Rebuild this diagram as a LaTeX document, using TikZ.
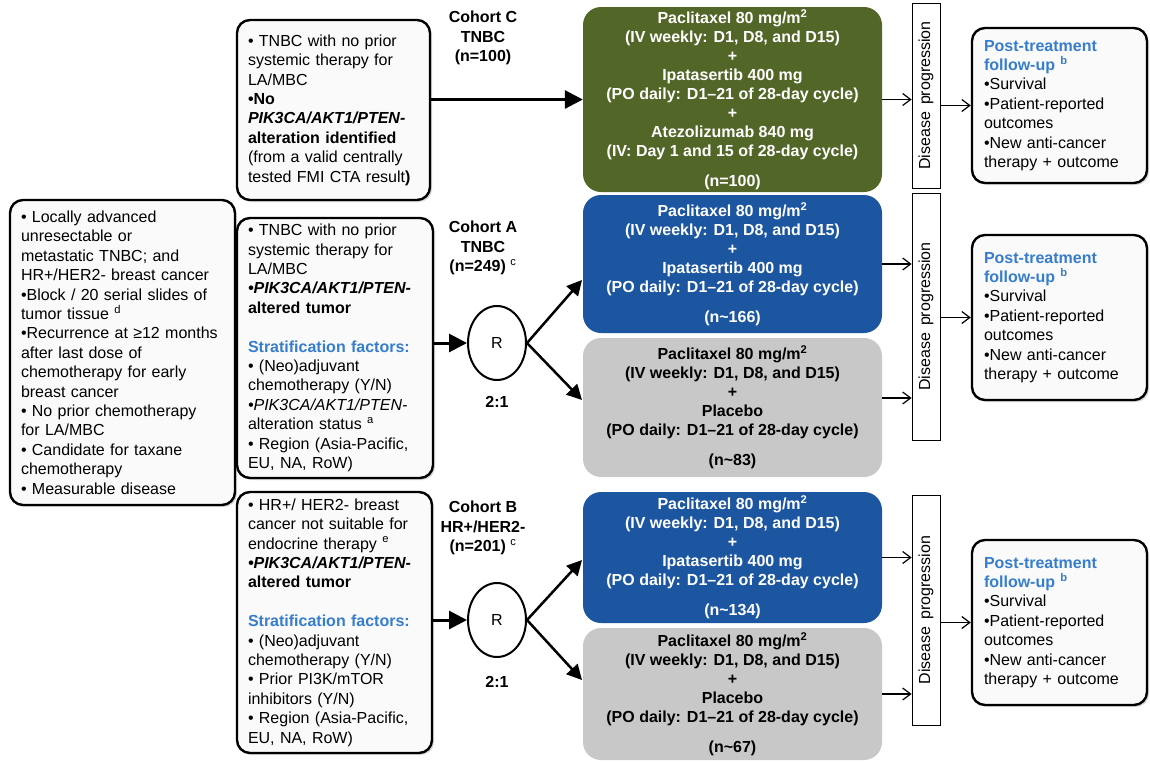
\documentclass[tikz,border=0pt]{standalone}
\usepackage{fontspec}
\setmainfont{Liberation Sans}
\usepackage{graphicx}
\usepackage{tikz}
\usetikzlibrary{arrows.meta,shapes.geometric,shadows}
\definecolor{armgreen}{RGB}{82,102,40}
\definecolor{armblue}{RGB}{28,86,160}
\definecolor{armgray}{RGB}{200,200,200}
\definecolor{stratblue}{RGB}{55,125,205}
\definecolor{boxfill}{RGB}{250,250,250}

\begin{document}
\begin{tikzpicture}[x=1pt,y=-1pt,
    every node/.style={font=\fontsize{16}{19.4}\selectfont},
    critbox/.style={draw, line width=2.4pt, rounded corners=13pt, fill=boxfill,
        drop shadow={shadow xshift=2pt,shadow yshift=-2pt,opacity=0.3},
        align=left, inner xsep=11pt, inner ysep=3pt},
    armbox/.style={rounded corners=18pt, align=center, inner sep=0pt, minimum width=299pt,
        font=\fontsize{16}{19}\selectfont\bfseries},
    cohort/.style={align=center, font=\fontsize{16}{19.5}\selectfont\bfseries},
    rnode/.style={ellipse, draw, line width=2pt, inner sep=0pt, minimum width=58pt, minimum height=74pt},
    progbox/.style={draw, line width=0.8pt, minimum width=28pt, inner sep=0pt},
    fubox/.style={critbox, text width=151pt, inner xsep=12pt},
    bigarrow/.style={line width=3pt, -{Triangle[length=18pt,width=18pt]}},
    splitarrow/.style={line width=2.5pt, -{Triangle[length=15pt,width=15pt]}},
    smallarrow/.style={line width=1.2pt, -{Straight Barb[length=8pt,width=12pt]}}]
    \path[use as bounding box, fill=white] (0,0) rectangle (1150,761);

    \node[critbox, text width=203pt, minimum height=305pt] (incl) at (122.5,352.5) {%
        • Locally advanced\\
        unresectable or\\
        metastatic TNBC; and\\
        HR+/HER2- breast cancer\\
        •Block / 20 serial slides of\\
        tumor tissue \textsuperscript{d}\\
        •Recurrence at ≥12 months\\
        after last dose of\\
        chemotherapy for early\\
        breast cancer\\
        • No prior chemotherapy\\
        for LA/MBC\\
        • Candidate for taxane\\
        chemotherapy\\
        • Measurable disease};

    \node[critbox, text width=171pt, minimum height=180pt] (critC) at (333.5,110) {%
        • TNBC with no prior\\
        systemic therapy for\\
        LA/MBC\\
        \textbf{•No}\\
        \textbf{\textit{PIK3CA/AKT1/PTEN-}}\\
        \textbf{alteration identified}\\
        (from a valid centrally\\
        tested FMI CTA result\textbf{)}};

    \node[critbox, text width=174pt, minimum height=260pt] (critA) at (335,348) {%
        • TNBC with no prior\\
        systemic therapy for\\
        LA/MBC\\
        \textbf{\textit{•PIK3CA/AKT1/PTEN-}}\\
        \textbf{altered tumor}\\[19.4pt]
        \textcolor{stratblue}{\textbf{Stratification factors:}}\\
        • (Neo)adjuvant\\
        chemotherapy (Y/N)\\
        \textit{•PIK3CA/AKT1/PTEN-}\\
        alteration status \textsuperscript{a}\\
        • Region (Asia-Pacific,\\
        EU, NA, RoW)};

    \node[critbox, text width=173pt, minimum height=261pt] (critB) at (334.5,622.5) {%
        • HR+/ HER2- breast\\
        cancer not suitable for\\
        endocrine therapy \textsuperscript{e}\\
        \textbf{\textit{•PIK3CA/AKT1/PTEN-}}\\
        \textbf{altered tumor}\\[19.4pt]
        \textcolor{stratblue}{\textbf{Stratification factors:}}\\
        • (Neo)adjuvant\\
        chemotherapy (Y/N)\\
        • Prior PI3K/mTOR\\
        inhibitors (Y/N)\\
        • Region (Asia-Pacific,\\
        EU, NA, RoW)};

    \node[cohort] (labC) at (483,38) {Cohort C\\TNBC\\(n=100)};
    \node[cohort] (labA) at (483,248) {Cohort A\\TNBC\\(n=249) \textsuperscript{\mdseries c}};
    \node[cohort] (labB) at (483,528) {Cohort B\\HR+/HER2-\\(n=201) \textsuperscript{\mdseries c}};

    \node[rnode] (rA) at (497,343) {R};
    \node[rnode] (rB) at (497,620) {R};
    \node[cohort] (ratioA) at (497,402) {2:1};
    \node[cohort] (ratioB) at (497,682) {2:1};

    \node[armbox, fill=armgreen, text=white, minimum height=185pt] (armC) at (732.5,99.5) {%
        Paclitaxel 80 mg/m\textsuperscript{2}\\
        (IV weekly: D1, D8, and D15)\\
        +\\
        Ipatasertib 400 mg\\
        (PO daily: D1–21 of 28-day cycle)\\
        +\\
        Atezolizumab 840 mg\\
        (IV: Day 1 and 15 of 28-day cycle)\\[11pt]
        (n=100)};
    \node[armbox, fill=armblue, text=white, minimum height=138pt] (armAa) at (732.5,264) {%
        Paclitaxel 80 mg/m\textsuperscript{2}\\
        (IV weekly: D1, D8, and D15)\\
        +\\
        Ipatasertib 400 mg\\
        (PO daily: D1–21 of 28-day cycle)\\[11pt]
        (n\textasciitilde166)};
    \node[armbox, fill=armgray, minimum height=139pt] (armAb) at (732.5,407.5) {%
        Paclitaxel 80 mg/m\textsuperscript{2}\\
        (IV weekly: D1, D8, and D15)\\
        +\\
        Placebo\\
        (PO daily: D1–21 of 28-day cycle)\\[11pt]
        (n\textasciitilde83)};
    \node[armbox, fill=armblue, text=white, minimum height=131pt] (armBa) at (732.5,557.5) {%
        Paclitaxel 80 mg/m\textsuperscript{2}\\
        (IV weekly: D1, D8, and D15)\\
        +\\
        Ipatasertib 400 mg\\
        (PO daily: D1–21 of 28-day cycle)\\[11pt]
        (n\textasciitilde134)};
    \node[armbox, fill=armgray, minimum height=132pt] (armBb) at (732.5,694) {%
        Paclitaxel 80 mg/m\textsuperscript{2}\\
        (IV weekly: D1, D8, and D15)\\
        +\\
        Placebo\\
        (PO daily: D1–21 of 28-day cycle)\\[11pt]
        (n\textasciitilde67)};

    \node[progbox, minimum height=185pt] (progC) at (926,95.5) {\rotatebox{90}{Disease\hspace{7pt}progression}};
    \node[progbox, minimum height=247pt] (progA) at (926,316.5) {\rotatebox{90}{Disease\hspace{7pt}progression}};
    \node[progbox, minimum height=230pt] (progB) at (926,610) {\rotatebox{90}{Disease\hspace{7pt}progression}};

    \node[fubox, minimum height=155pt] (fuC) at (1059.5,105.5) {%
        \textcolor{stratblue}{\textbf{Post-treatment}}\\
        \textcolor{stratblue}{\textbf{follow-up \textsuperscript{b}}}\\
        •Survival\\
        •Patient-reported\\
        outcomes\\
        •New anti-cancer\\
        therapy + outcome};
    \node[fubox, minimum height=165pt] (fuA) at (1059.5,317.5) {%
        \textcolor{stratblue}{\textbf{Post-treatment}}\\
        \textcolor{stratblue}{\textbf{follow-up \textsuperscript{b}}}\\
        •Survival\\
        •Patient-reported\\
        outcomes\\
        •New anti-cancer\\
        therapy + outcome};
    \node[fubox, minimum height=165pt] (fuB) at (1059.5,622.5) {%
        \textcolor{stratblue}{\textbf{Post-treatment}}\\
        \textcolor{stratblue}{\textbf{follow-up \textsuperscript{b}}}\\
        •Survival\\
        •Patient-reported\\
        outcomes\\
        •New anti-cancer\\
        therapy + outcome};

    \coordinate (tipA1) at (582,280);
    \coordinate (tipA2) at (582,400);
    \coordinate (tipB1) at (582,560);
    \coordinate (tipB2) at (582,680);

    \draw[bigarrow] (critC.east |- armC.west) -- (armC.west);
    \draw[bigarrow] (critA.east |- rA.west) -- (rA.west);
    \draw[bigarrow] (critB.east |- rB.west) -- (rB.west);
    \draw[splitarrow] (rA.east) -- (tipA1);
    \draw[splitarrow] (rA.east) -- (tipA2);
    \draw[splitarrow] (rB.east) -- (tipB1);
    \draw[splitarrow] (rB.east) -- (tipB2);

    \draw[smallarrow] (armC.east) -- (progC.west |- armC.east);
    \draw[smallarrow] (armAa.east) -- (progA.west |- armAa.east);
    \draw[smallarrow] ([yshift=9.5pt]armAb.east) -- ([yshift=9.5pt]progA.west |- armAb.east);
    \draw[smallarrow] (armBa.east) -- (progB.west |- armBa.east);
    \draw[smallarrow] (armBb.east) -- (progB.west |- armBb.east);

    \draw[smallarrow] (progC.east |- fuC.west) -- (fuC.west);
    \draw[smallarrow] (progA.east |- fuA.west) -- (fuA.west);
    \draw[smallarrow] (progB.east |- fuB.west) -- (fuB.west);
\end{tikzpicture}
\end{document}
